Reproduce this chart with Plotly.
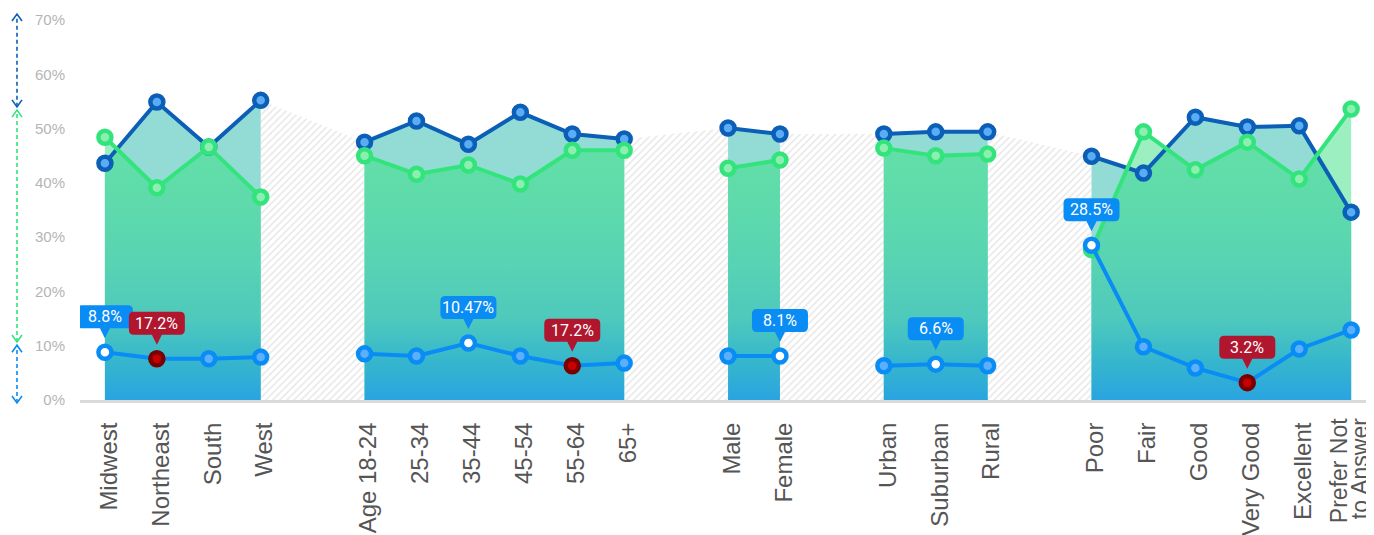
import plotly.graph_objects as go

# ---------------- data ----------------
groups = [
    ["Midwest", "Northeast", "South", "West"],
    ["Age 18-24", "25-34", "35-44", "45-54", "55-64", "65+"],
    ["Male", "Female"],
    ["Urban", "Suburban", "Rural"],
    ["Poor", "Fair", "Good", "Very Good", "Excellent", "Prefer Not<br>to Answer"],
]
dark_vals = [43.6, 54.9, 46.6, 55.2,
             47.5, 51.4, 47.1, 53.0, 49.0, 48.1,
             50.1, 49.0,
             49.0, 49.4, 49.4,
             44.9, 41.8, 52.1, 50.3, 50.5, 34.6]
green_vals = [48.4, 39.1, 46.6, 37.4,
              45.0, 41.6, 43.3, 39.8, 46.0, 46.0,
              42.7, 44.2,
              46.4, 45.0, 45.3,
              27.7, 49.4, 42.4, 47.5, 40.7, 53.6]
blue_vals = [8.8, 7.6, 7.6, 7.9,
             8.5, 8.1, 10.5, 8.1, 6.3, 6.8,
             8.1, 8.1,
             6.3, 6.6, 6.3,
             28.5, 9.8, 5.9, 3.2, 9.4, 12.9]
high_labels = {"Midwest": "8.8%", "35-44": "10.47%", "Female": "8.1%",
               "Suburban": "6.6%", "Poor": "28.5%"}
low_labels = {"Northeast": "17.2%", "55-64": "17.2%", "Very Good": "3.2%"}
y_ticks = [0, 10, 20, 30, 40, 50, 60, 70]
# left range arrows (value spans)
arrow_spans = [(54.0, 71.1), (10.7, 53.4), (-0.55, 10.1)]

# ---------------- styles ----------------
C_DARK, C_DARK_IN = "#0b5fb6", "#5aacf5"
C_GREEN, C_GREEN_IN = "#33e47c", "#8cefb0"
C_BLUE, C_BLUE_IN = "#0a8cf5", "#5cb0fb"
C_RED, C_RED_IN = "#7a0000", "#c80000"
C_TEAL_FILL = "#92dcd5"
C_LGREEN_FILL = "#9cefc1"
GRAD = [[0.0, "#29a4e0"], [0.14, "#36b6cd"], [0.3, "#4ec9bc"],
        [0.5, "#58d3b3"], [0.75, "#5fdbab"], [1.0, "#64e1a7"]]
TICK_FONT = dict(family="Liberation Sans", size=24, color="#555555")
MULTI_FONT = dict(family="Liberation Sans", size=23, color="#555555")
LABEL_SHIFT = 4

# ---------------- positions ----------------
labels, xs_groups = [], []
pos = 0
for g in groups:
    xs = list(range(pos, pos + len(g)))
    xs_groups.append(xs)
    labels.extend(g)
    pos += len(g) + 1
all_x = [x for xs in xs_groups for x in xs]


def split(vals):
    out, k = [], 0
    for xs in xs_groups:
        out.append(vals[k:k + len(xs)])
        k += len(xs)
    return out


dark_g, green_g, blue_g = split(dark_vals), split(green_vals), split(blue_vals)


def lower_env(xs, a, b):
    ox, oy = [xs[0]], [min(a[0], b[0])]
    for i in range(len(xs) - 1):
        d0 = a[i] - b[i]
        d1 = a[i + 1] - b[i + 1]
        if d0 * d1 < 0:
            t = d0 / (d0 - d1)
            ox.append(xs[i] + t * (xs[i + 1] - xs[i]))
            oy.append(a[i] + t * (a[i + 1] - a[i]))
        ox.append(xs[i + 1])
        oy.append(min(a[i + 1], b[i + 1]))
    return ox, oy


fig = go.Figure()

# hatched gaps between groups
for k in range(len(xs_groups) - 1):
    x0, x1 = xs_groups[k][-1], xs_groups[k + 1][0]
    y0 = max(dark_g[k][-1], green_g[k][-1])
    y1 = max(dark_g[k + 1][0], green_g[k + 1][0])
    fig.add_trace(go.Scatter(
        x=[x0, x1], y=[y0, y1], mode="none", fill="tozeroy",
        fillcolor="rgba(255,255,255,0)",
        fillpattern=dict(shape="/", fgcolor="#cfcfcf", bgcolor="rgba(255,255,255,0)",
                         size=5, solidity=0.3),
        hoverinfo="skip", showlegend=False))

# group fills
for k, xs in enumerate(xs_groups):
    fig.add_trace(go.Scatter(x=xs, y=dark_g[k], mode="none", fill="tozeroy",
                             fillcolor=C_TEAL_FILL, hoverinfo="skip", showlegend=False))
    fig.add_trace(go.Scatter(x=xs, y=green_g[k], mode="none", fill="tozeroy",
                             fillcolor=C_LGREEN_FILL, hoverinfo="skip", showlegend=False))
    ex, ey = lower_env(xs, dark_g[k], green_g[k])
    fig.add_trace(go.Scatter(x=ex, y=ey, mode="none", fill="tozeroy",
                             fillgradient=dict(type="vertical", colorscale=GRAD,
                                               start=0, stop=50),
                             hoverinfo="skip", showlegend=False))


def with_gaps(vals_g):
    xx, yy = [], []
    for k, xs in enumerate(xs_groups):
        xx += xs + [None]
        yy += list(vals_g[k]) + [None]
    return xx, yy


for vals_g, lc, fc in [(dark_g, C_DARK, C_DARK_IN), (green_g, C_GREEN, C_GREEN_IN)]:
    xx, yy = with_gaps(vals_g)
    fig.add_trace(go.Scatter(
        x=xx, y=yy, mode="lines+markers", connectgaps=False,
        line=dict(color=lc, width=4),
        marker=dict(size=13, color=fc, line=dict(color=lc, width=4.5)),
        hoverinfo="skip", showlegend=False))

# light blue series with highlighted points
xx, yy = with_gaps(blue_g)
fills, edges = [], []
for x in xx:
    if x is None:
        fills.append(C_BLUE_IN); edges.append(C_BLUE)
        continue
    name = labels[all_x.index(x)]
    if name in high_labels:
        fills.append("#ffffff"); edges.append(C_BLUE)
    elif name in low_labels:
        fills.append(C_RED_IN); edges.append(C_RED)
    else:
        fills.append(C_BLUE_IN); edges.append(C_BLUE)
fig.add_trace(go.Scatter(
    x=xx, y=yy, mode="lines+markers", connectgaps=False,
    line=dict(color=C_BLUE, width=4),
    marker=dict(size=13, color=fills, line=dict(color=edges, width=4.5)),
    hoverinfo="skip", showlegend=False))

# callouts
callout_path = ("M -23,24 L -5,24 L 0,14 L 5,24 L 23,24 Q 28,24 28,29 L 28,42 "
                "Q 28,47 23,47 L -23,47 Q -28,47 -28,42 L -28,29 Q -28,24 -23,24 Z")
shapes, annos = [], []
for i, name in enumerate(labels):
    if name in high_labels:
        txt, bg = high_labels[name], C_BLUE
    elif name in low_labels:
        txt, bg = low_labels[name], "#b0172f"
    else:
        continue
    x, y = all_x[i], blue_vals[i]
    shapes.append(dict(type="path", xref="x", yref="y", xsizemode="pixel", ysizemode="pixel",
                       xanchor=x, yanchor=y, path=callout_path,
                       fillcolor=bg, line=dict(width=0), layer="above"))
    annos.append(dict(x=x, y=y, xref="x", yref="y", text=txt, showarrow=False,
                      yshift=35.5, font=dict(family="Roboto", size=16, color="white")))

# multi-line tick labels drawn with tighter line spacing
ticktext = []
for x, lab in zip(all_x, labels):
    if "<br>" in lab:
        ticktext.append("")
        lines = lab.split("<br>")
        n = len(lines)
        for j, ln in enumerate(lines):
            annos.append(dict(x=x, y=0, xref="x", yref="paper", text=ln, showarrow=False,
                              textangle=-90, yanchor="top", xanchor="center",
                              xshift=-2 + (j - (n - 1) / 2) * 21, yshift=-17,
                              borderpad=0, font=MULTI_FONT))
    else:
        ticktext.append(lab)

# left range arrows
XP = -0.0487
for (lo, hi), col in zip(arrow_spans, [C_DARK, C_GREEN, C_BLUE]):
    shapes.append(dict(type="line", xref="paper", yref="paper", x0=XP, x1=XP,
                       y0=lo / 70, y1=hi / 70, line=dict(color=col, width=1.6, dash="4px,3px")))
    shapes.append(dict(type="path", xref="paper", yref="paper", xsizemode="pixel", ysizemode="pixel",
                       xanchor=XP, yanchor=hi / 70, path="M -5,-7 L 0,0 L 5,-7",
                       line=dict(color=col, width=1.6)))
    shapes.append(dict(type="path", xref="paper", yref="paper", xsizemode="pixel", ysizemode="pixel",
                       xanchor=XP, yanchor=lo / 70, path="M -5,7 L 0,0 L 5,7",
                       line=dict(color=col, width=1.6)))

fig.update_layout(
    width=1366, height=527, margin=dict(l=72, r=0, t=12, b=135),
    plot_bgcolor="white", paper_bgcolor="white", showlegend=False,
    shapes=shapes, annotations=annos,
    xaxis=dict(range=[-0.48, 24.44], tickvals=all_x, ticktext=ticktext, tickangle=-90,
               tickfont=TICK_FONT,
               showgrid=False, zeroline=False, showline=True, linecolor="#dadada",
               linewidth=3, ticks="", ticklabelstandoff=10, ticklabelshift=LABEL_SHIFT,
               ticklabeloverflow="allow"),
    yaxis=dict(range=[0, 70], tickvals=y_ticks, ticktext=[f"{v}%" for v in y_ticks],
               tickfont=dict(family="Liberation Sans", size=15, color="#b5b5b5"),
               showgrid=False, zeroline=False, showline=False, ticks="",
               ticklabelstandoff=14),
)

fig.write_html("out.html")
